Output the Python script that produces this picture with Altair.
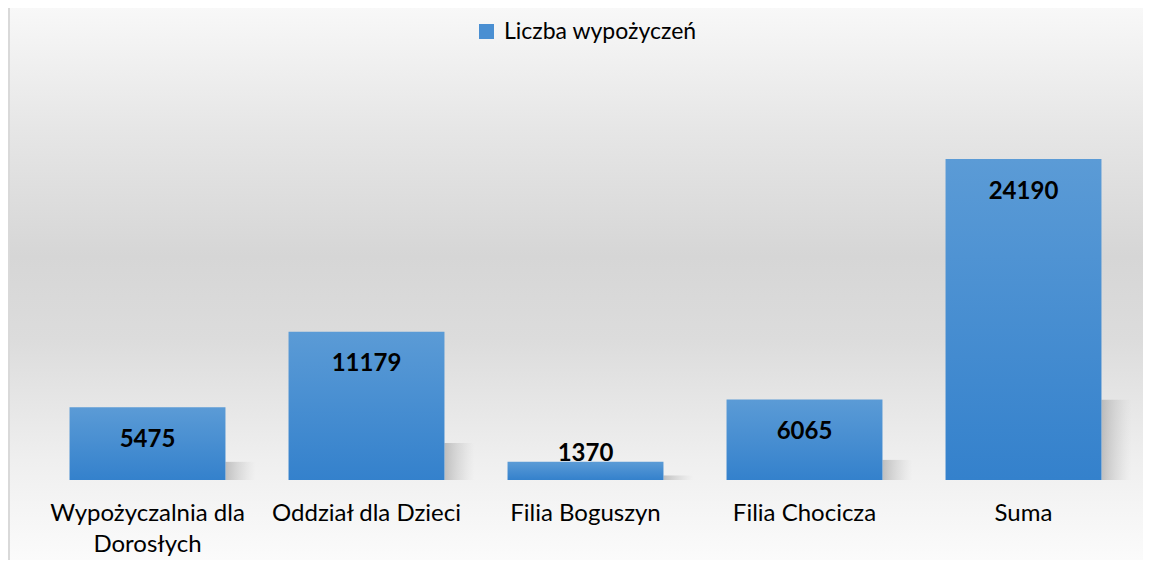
import altair as alt
import pandas as pd

categories = ["Wypożyczalnia dla Dorosłych", "Oddział dla Dzieci", "Filia Boguszyn", "Filia Chocicza", "Suma"]
values = [5475, 11179, 1370, 6065, 24190]
series_name = "Liczba wypożyczeń"

df = pd.DataFrame({"kategoria": categories, "wartosc": values, "seria": series_name})

W, H = 1095, 398
PAD = {"left": 30, "top": 74, "right": 10, "bottom": 80}
FONT = "Lato"

x_enc = alt.X("kategoria:N", sort=categories,
              scale=alt.Scale(paddingInner=0.288, paddingOuter=0.144),
              axis=alt.Axis(title=None, labelAngle=0, domain=False, ticks=False, zindex=2,
                            labelFont=FONT, labelFontSize=24, labelColor="#000000",
                            labelPadding=21, labelLineHeight=31, labelLimit=300,
                            labelBaseline="top",
                            labelExpr="datum.label == 'Wypożyczalnia dla Dorosłych' ? ['Wypożyczalnia dla', 'Dorosłych'] : datum.label"))
y_enc = alt.Y("wartosc:Q", scale=alt.Scale(domain=[0, 30000], nice=False, zero=True),
              axis=None)

base = alt.Chart(df)

background = base.mark_rect(
    fill=alt.Gradient(gradient="linear", x1=0, y1=0, x2=0, y2=1,
                      stops=[alt.GradientStop(color="#f8f8f8", offset=0),
                             alt.GradientStop(color="#e6e6e6", offset=0.22),
                             alt.GradientStop(color="#d6d6d6", offset=0.45),
                             alt.GradientStop(color="#dcdcdc", offset=0.6),
                             alt.GradientStop(color="#efefef", offset=0.82),
                             alt.GradientStop(color="#fbfbfb", offset=1)])
).encode(x=alt.value(-PAD["left"]), x2=alt.value(W + PAD["right"] + 20),
         y=alt.value(-PAD["top"]), y2=alt.value(H + PAD["bottom"]))

border = base.mark_rect(fill="#d9d9d9").encode(
    x=alt.value(-PAD["left"]), x2=alt.value(-PAD["left"] + 2),
    y=alt.value(-PAD["top"]), y2=alt.value(H + PAD["bottom"]))

shadow = base.transform_calculate(sh="datum.wartosc * 0.25").mark_bar(
    width=30, xOffset=93,
    fill=alt.Gradient(gradient="linear", x1=0, y1=0, x2=1, y2=0,
                      stops=[alt.GradientStop(color="rgba(150,150,150,0.55)", offset=0),
                             alt.GradientStop(color="rgba(180,180,180,0.25)", offset=0.6),
                             alt.GradientStop(color="rgba(200,200,200,0)", offset=1)])
).encode(x=x_enc, y=alt.Y("sh:Q", scale=alt.Scale(domain=[0, 30000], nice=False), axis=None))

bars = base.mark_bar(
    fill=alt.Gradient(gradient="linear", x1=0, y1=0, x2=0, y2=1,
                      stops=[alt.GradientStop(color="#5b9bd6", offset=0),
                             alt.GradientStop(color="#3481cc", offset=1)])
).encode(x=x_enc, y=y_enc)

legend_layer = base.mark_point(shape="square", filled=True, opacity=0, size=1).encode(
    x=x_enc, y=y_enc,
    color=alt.Color("seria:N", scale=alt.Scale(range=["#4a8fd2"]),
                    legend=alt.Legend(title=None, orient="none", legendX=437, legendY=-62,
                                      symbolType="square", symbolSize=225, symbolOpacity=1,
                                      symbolStrokeWidth=0, labelFont=FONT, labelFontSize=23,
                                      labelColor="#000000", labelOffset=6, padding=0,
                                      labelLimit=400, zindex=2)))

text_in = base.transform_filter("datum.wartosc >= 3000").mark_text(
    font=FONT, fontSize=24, fontWeight="bold", color="#000000",
    baseline="alphabetic", dy=39.5
).encode(x=x_enc, y=y_enc, text=alt.Text("wartosc:Q", format="d"))

text_out = base.transform_filter("datum.wartosc < 3000").mark_text(
    font=FONT, fontSize=24, fontWeight="bold", color="#000000",
    baseline="alphabetic", dy=-1
).encode(x=x_enc, y=y_enc, text=alt.Text("wartosc:Q", format="d"))

chart = alt.layer(background, border, shadow, bars, legend_layer, text_in, text_out).properties(
    width=W, height=H,
    autosize=alt.AutoSizeParams(type="none"),
    padding=PAD,
).configure_view(stroke=None)

chart.save("out.html", embed_options={"renderer": "svg", "actions": False})
